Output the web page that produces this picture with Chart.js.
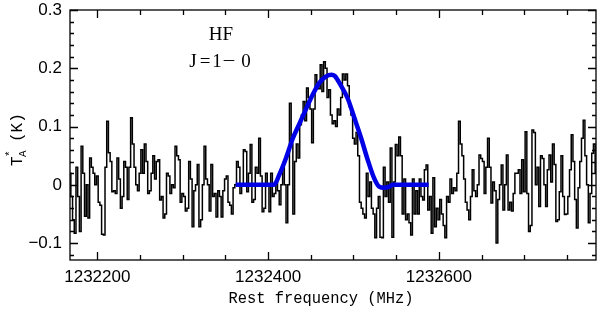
<!DOCTYPE html>
<html>
<head>
<meta charset="utf-8">
<script src="https://cdn.jsdelivr.net/npm/chart.js@4.4.0/dist/chart.umd.min.js"></script>
<style>
  html, body { margin: 0; padding: 0; background: #fff; }
  #spec { display: block; }
</style>
</head>
<body>
<canvas id="spec" width="600" height="309"></canvas>
<script>
// spectral axis: first channel centre and channel width (MHz)
var freqStart = 1232168;
var chanWidth = 2;

// antenna temperature per channel (K)
var spectrum = [
  0.02, -0.02, -0.06, -0.083, 0.03, -0.02, -0.08, 0.066, 0.02, -0.054,
  0.0, -0.057, 0.046, 0.03, 0.02, 0.0, 0.015, -0.03, -0.035, -0.085,
  -0.086, 0.03, 0.109, 0.055, 0.04, -0.012, -0.01, -0.015, 0.046, 0.01,
  -0.04, -0.02, 0.04, 0.03, -0.025, 0.03, 0.115, 0.07, 0.03, 0.0,
  -0.01, 0.02, 0.06, 0.02, 0.07, 0.04, -0.015, -0.01, 0.02, 0.05,
  0.01, 0.04, 0.043, -0.026, -0.02, -0.057, -0.05, 0.02, 0.015, -0.015,
  0.0, -0.005, 0.066, 0.05, 0.043, -0.03, -0.015, -0.02, -0.045, -0.04,
  0.04, 0.01, -0.072, -0.01, 0.0, 0.035, -0.072, -0.06, 0.0, 0.066,
  0.01, 0.0, -0.045, 0.035, -0.02, -0.015, -0.055, -0.01, -0.02, -0.055,
  -0.01, 0.01, 0.015, -0.03, -0.035, -0.05, -0.005, 0.0, 0.04, 0.03,
  -0.015, 0.0, 0.06, 0.057, -0.012, 0.02, 0.069, -0.03, -0.025, 0.03,
  0.02, 0.08, 0.015, -0.046, -0.04, 0.02, 0.0, -0.046, 0.02, -0.02,
  -0.015, 0.005, -0.01, -0.034, 0.0, 0.03, 0.0, -0.065, 0.0, 0.14,
  0.07, -0.05, 0.04, 0.07, 0.046, 0.103, 0.12, 0.143, 0.11, 0.166,
  0.15, 0.13, 0.072, 0.13, 0.189, 0.175, 0.165, 0.206, 0.16, 0.211,
  0.2, 0.15, 0.163, 0.12, 0.105, 0.11, 0.1, 0.13, 0.12, 0.15,
  0.19, 0.18, 0.19, 0.17, 0.134, 0.12, 0.08, 0.07, 0.09, 0.05,
  -0.03, -0.04, -0.05, -0.057, 0.02, -0.02, 0.005, -0.04, -0.05, -0.091,
  -0.04, -0.02, -0.09, -0.091, 0.03, -0.02, 0.005, -0.03, 0.063, -0.09,
  0.005, 0.069, 0.05, 0.082, 0.05, -0.05, 0.01, -0.06, -0.05, -0.065,
  -0.086, 0.01, -0.05, -0.01, -0.05, 0.01, -0.02, -0.026, 0.026, 0.034,
  -0.043, -0.02, -0.083, 0.012, -0.072, -0.04, -0.06, -0.025, -0.05, -0.07,
  -0.091, -0.02, -0.03, 0.01, -0.015, -0.005, -0.01, 0.02, 0.109, 0.07,
  0.05, 0.01, -0.03, -0.043, -0.06, -0.02, 0.026, -0.01, -0.02, 0.0,
  0.051, 0.045, 0.04, -0.015, 0.03, 0.08, 0.03, -0.031, 0.005, -0.01,
  -0.1, -0.025, 0.0, 0.034, -0.043, 0.0, 0.051, -0.043, -0.03, -0.045,
  -0.015, 0.02, 0.02, 0.026, -0.015, 0.043, -0.012, 0.091, -0.015, -0.08,
  -0.07, 0.094, 0.09, 0.0, 0.03, -0.037, 0.05, 0.045, 0.0, -0.037,
  0.026, 0.051, 0.005, 0.07, 0.035, -0.063, -0.06, -0.012, 0.05, -0.02,
  -0.051, -0.05, -0.02, 0.026, 0.086, 0.04, -0.025, -0.074, -0.005, 0.04,
  0.08, 0.111, 0.05, 0.0, -0.065, -0.015, 0.054, 0.07, 0.02, 0.0, -0.02
];

// fitted line profile (blue)
var fitFreq = [1232362, 1232380, 1232395, 1232407, 1232413, 1232421, 1232429, 1232437,
  1232445, 1232452, 1232460, 1232468, 1232474, 1232478, 1232485, 1232493, 1232501,
  1232509, 1232516, 1232524, 1232530, 1232536, 1232542, 1232546, 1232560, 1232575, 1232588];
var fitVal = [0, 0, 0, 0, 0.017, 0.046, 0.08, 0.106, 0.132, 0.154, 0.175, 0.186, 0.189,
  0.187, 0.171, 0.149, 0.115, 0.08, 0.046, 0.012, -0.003, -0.005, -0.003, 0, 0, 0, 0];

// axis ranges and labelled ticks
var xMin = 1232168, xMax = 1232784;
var yMin = -0.129, yMax = 0.3;
var xTicks = [1232200, 1232400, 1232600];
var yTicks = [-0.1, 0, 0.1, 0.2, 0.3];

var specPts = spectrum.map(function(v, i){ return {x: freqStart + i * chanWidth, y: v}; });
var fitPts = fitFreq.map(function(f, i){ return {x: f, y: fitVal[i]}; });

// draw text squeezed/stretched to a given width
function fitText(ctx, txt, x, y, w) {
  var m = ctx.measureText(txt).width;
  ctx.save();
  ctx.translate(x, y);
  ctx.scale(w / m, 1);
  ctx.textAlign = 'center';
  ctx.fillText(txt, 0, 0);
  ctx.restore();
}

// frame, inward ticks and the text labels
var decor = {
  id: 'decor',
  afterDraw: function(chart){
    var ctx = chart.ctx, a = chart.chartArea;
    var xs = chart.scales.x, ys = chart.scales.y;
    ctx.save();
    ctx.strokeStyle = '#000';
    ctx.lineWidth = 1.3;
    ctx.strokeRect(a.left, a.top, a.right - a.left, a.bottom - a.top);
    ctx.beginPath();
    for (var f = Math.ceil(xMin / 50) * 50; f <= xMax; f += 50) {
      var px = Math.round(xs.getPixelForValue(f)) + 0.5;
      var len = (f % 200 === 0) ? 8 : 5;
      ctx.moveTo(px, a.bottom); ctx.lineTo(px, a.bottom - len);
      ctx.moveTo(px, a.top); ctx.lineTo(px, a.top + len);
    }
    for (var k = -6; k <= 15; k++) {
      var py = Math.round(ys.getPixelForValue(k * 0.02)) + 0.5;
      var l = (k % 5 === 0) ? 8 : 4;
      ctx.moveTo(a.left, py); ctx.lineTo(a.left + l, py);
      ctx.moveTo(a.right, py); ctx.lineTo(a.right - l, py);
    }
    ctx.stroke();

    ctx.fillStyle = '#000';
    ctx.textAlign = 'center';
    ctx.textBaseline = 'alphabetic';
    ctx.font = '19px "Liberation Serif"';
    ctx.fillText('HF', 221, 40);
    // J=1−0 with wide spacing like the original
    var chars = ['J', '=', '1', '\u2212', '0'];
    var cx = [193, 205, 217, 229, 246];
    for (var c = 0; c < chars.length; c++) {
      if (chars[c] === '\u2212') fitText(ctx, chars[c], cx[c], 67, 13);
      else ctx.fillText(chars[c], cx[c], 67);
    }

    ctx.font = '16px "Liberation Mono"';
    fitText(ctx, 'Rest frequency (MHz)', 321, 303, 185);

    // y title: T_A^* (K), rotated
    ctx.translate(22, 139);
    ctx.rotate(-Math.PI / 2);
    ctx.textAlign = 'left';
    var x0 = -27;
    ctx.font = '16px "Liberation Mono"';
    ctx.fillText('T', x0, 0);
    ctx.font = '11px "Liberation Mono"';
    ctx.fillText('A', x0 + 9, 4);
    ctx.fillText('*', x0 + 9, -9);
    ctx.font = '16px "Liberation Mono"';
    ctx.fillText('(K)', x0 + 24, 0);
    ctx.restore();
  }
};

function yLabel(v) {
  if (Math.abs(v) < 1e-9) return '0';
  return (v < 0 ? '\u2212' : '') + Math.abs(v).toFixed(1);
}

var ctx = document.getElementById('spec').getContext('2d');
var chart = new Chart(ctx, {
  type: 'line',
  data: {
    datasets: [{
      label: 'fit',
      data: fitPts,
      order: 0,
      borderColor: '#0000e6',
      borderWidth: 4.5,
      pointRadius: 0,
      fill: false,
      cubicInterpolationMode: 'monotone',
      borderCapStyle: 'butt'
    }, {
      label: 'HF',
      data: specPts,
      order: 1,
      stepped: 'middle',
      borderColor: '#000',
      borderWidth: 1.5,
      pointRadius: 0,
      fill: false
    }]
  },
  options: {
    responsive: false,
    animation: false,
    devicePixelRatio: 1,
    layout: { padding: { top: 10, right: 4, left: 0, bottom: 0 } },
    plugins: { legend: { display: false }, tooltip: { enabled: false } },
    scales: {
      x: {
        type: 'linear',
        min: xMin,
        max: xMax,
        grid: { display: false },
        border: { display: false },
        afterBuildTicks: function(s){ s.ticks = xTicks.map(function(v){ return {value: v}; }); },
        afterFit: function(s){ s.height = 49; s.paddingLeft = 0; s.paddingRight = 0; },
        ticks: {
          autoSkip: false,
          maxRotation: 0,
          padding: -1,
          color: '#000',
          font: { family: 'Liberation Sans', size: 17 },
          callback: function(v){ return String(v); }
        }
      },
      y: {
        min: yMin,
        max: yMax,
        grid: { display: false },
        border: { display: false },
        afterBuildTicks: function(s){ s.ticks = yTicks.map(function(v){ return {value: v}; }); },
        afterFit: function(s){ s.width = 70; s.paddingTop = 0; s.paddingBottom = 0; },
        ticks: {
          autoSkip: false,
          padding: 0,
          color: '#000',
          font: { family: 'Liberation Sans', size: 17 },
          callback: yLabel
        }
      }
    }
  },
  plugins: [decor]
});
</script>
</body>
</html>
